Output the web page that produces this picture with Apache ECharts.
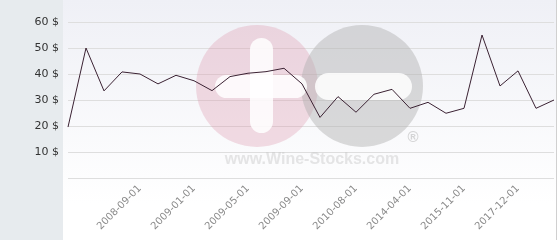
<!DOCTYPE html>
<html><head><meta charset="utf-8">
<script src="https://cdn.jsdelivr.net/npm/echarts@6/dist/echarts.min.js"></script>
<style>html,body{margin:0;padding:0;background:#fff}#c{width:560px;height:240px}</style>
</head><body><div id="c"></div>
<script>
const categories = ['2008-05-01','2008-06-01','2008-07-01','2008-08-01','2008-09-01','2008-10-01','2008-12-01',
  '2009-01-01','2009-02-01','2009-04-01','2009-05-01','2009-06-01','2009-08-01','2009-09-01','2009-12-01',
  '2010-03-01','2010-08-01','2011-06-01','2012-09-01','2014-04-01','2014-10-01','2015-04-01','2015-11-01',
  '2016-06-01','2017-01-01','2017-12-01','2018-07-01','2019-03-01'];
const prices = [19.6,50,33.5,40.8,40,36.2,39.5,37.4,33.6,39,40.3,40.9,42.2,36.2,23.3,31.3,25.3,32.2,34.1,26.8,29.1,24.9,26.8,55,35.4,41.2,26.8,30];
const yTicks = [0,10,20,30,40,50,60];

const chart = echarts.init(document.getElementById('c'), null, {renderer:'canvas'});
chart.setOption({
  animation:false,
  backgroundColor:'#fff',
  graphic:[
    {type:'rect', z:-10, shape:{x:0,y:0,width:63,height:240}, style:{fill:'#e7ebee'}},
    {type:'rect', z:-10, shape:{x:63,y:0,width:493,height:240},
      style:{fill:new echarts.graphic.LinearGradient(0,0,0,1,[{offset:0,color:'#eff0f6'},{offset:0.85,color:'#ffffff'},{offset:1,color:'#ffffff'}])}},
    {type:'rect', z:-10, shape:{x:556,y:0,width:1,height:240}, style:{fill:'#d0d0d0'}},
    {type:'circle', z:1, shape:{cx:257,cy:86,r:61}, style:{fill:'rgba(220,150,172,0.32)'}},
    {type:'circle', z:1, shape:{cx:362,cy:86,r:61}, style:{fill:'rgba(175,175,175,0.45)'}},
    {type:'rect', z:1, shape:{x:250,y:38,width:23,height:95,r:11.5}, style:{fill:'rgba(255,255,255,0.85)'}},
    {type:'rect', z:1, shape:{x:215,y:75,width:92,height:23,r:11.5}, style:{fill:'rgba(255,255,255,0.85)'}},
    {type:'rect', z:1, shape:{x:315,y:73,width:97,height:27,r:13.5}, style:{fill:'rgba(255,255,255,0.85)'}},
    {type:'text', z:1, x:312, y:160, style:{text:'www.Wine-Stocks.com', fill:'rgba(200,200,200,0.45)', font:'bold 16px "Liberation Sans", Arial, sans-serif', align:'center', verticalAlign:'middle'}},
    {type:'text', z:1, x:413, y:138, style:{text:'®', fill:'rgba(180,180,180,0.55)', font:'bold 15px "Liberation Sans", Arial, sans-serif', align:'center', verticalAlign:'middle'}}
  ],
  grid:{left:68, right:6, top:22, bottom:62, containLabel:false},
  xAxis:{
    type:'category', data:categories, boundaryGap:false,
    axisLine:{show:false}, axisTick:{show:false},
    axisLabel:{rotate:45, interval:(i)=> i >= 4 && i % 3 === 1, color:'#8a8a8a', fontSize:10,
      fontFamily:'DejaVu Sans', margin:9},
    splitLine:{show:false}
  },
  yAxis:{
    type:'value', min:yTicks[0], max:yTicks[yTicks.length-1], interval:10,
    axisLine:{show:false}, axisTick:{show:false},
    axisLabel:{formatter:(v)=> v===0 ? '' : v + ' $', color:'#333', fontSize:11, fontFamily:'DejaVu Sans', margin:9},
    splitLine:{show:true, lineStyle:{color:'#dedede', width:1}}
  },
  series:[{
    type:'line', data:prices, showSymbol:false, symbol:'none', z:5,
    lineStyle:{color:'#3b2233', width:1}
  }]
});
</script></body></html>
